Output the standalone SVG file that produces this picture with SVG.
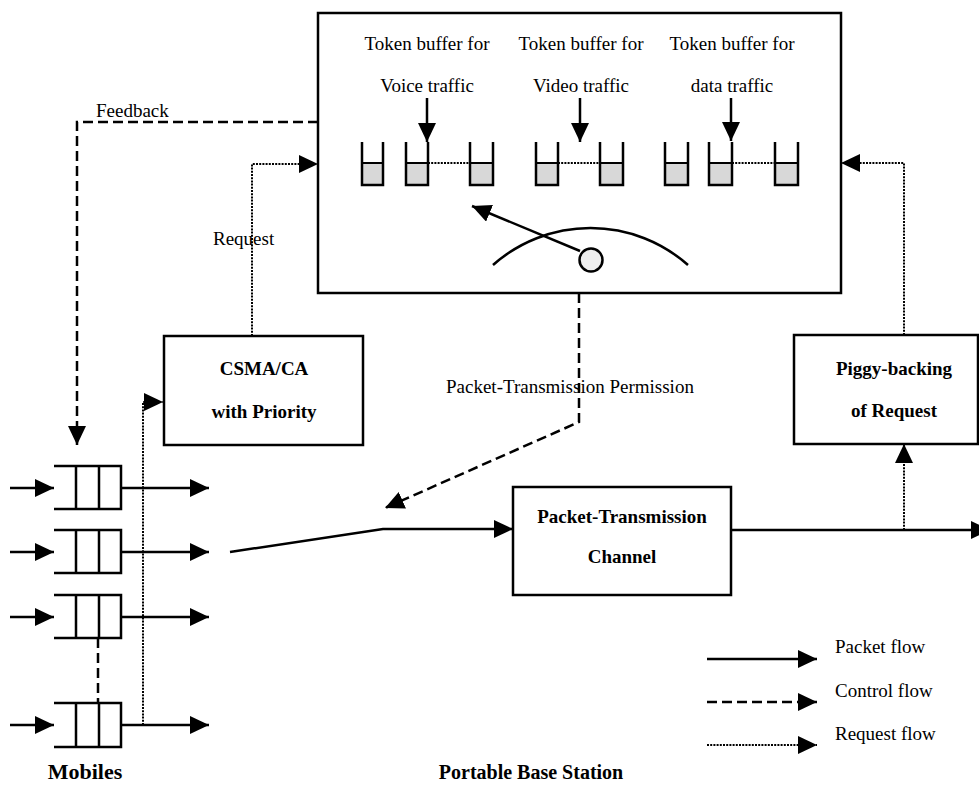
<svg xmlns="http://www.w3.org/2000/svg" width="979" height="787" viewBox="0 0 979 787">
<style>
text{font-family:"Liberation Serif","Times New Roman",serif;fill:#000}
.t{font-size:19px}
.b{font-size:19px;font-weight:bold}
.box{fill:#fff;stroke:#000;stroke-width:2.5}
.solid{fill:none;stroke:#000;stroke-width:2.5}
.dash{fill:none;stroke:#000;stroke-width:2.5;stroke-dasharray:10 5}
.dot{fill:none;stroke:#000;stroke-width:2;stroke-dasharray:2 1.2}
.cup{fill:none;stroke:#000;stroke-width:2.5}
.fill{fill:#d8d8d8;stroke:#000;stroke-width:2}
.q{fill:none;stroke:#000;stroke-width:2.5}
</style>
<defs>
<marker id="ah" markerUnits="userSpaceOnUse" markerWidth="19" markerHeight="18" refX="19" refY="9" orient="auto">
<path d="M0,0 L19,9 L0,18 z" fill="#000"/>
</marker>
</defs>

<g id="base-station">
<rect class="box" x="318" y="13" width="523" height="280"/>
</g>

<g id="token-buffers">
<text class="t" x="427" y="50" text-anchor="middle">Token buffer for</text>
<text class="t" x="427" y="92" text-anchor="middle">Voice traffic</text>
<text class="t" x="581" y="50" text-anchor="middle">Token buffer for</text>
<text class="t" x="581" y="92" text-anchor="middle">Video traffic</text>
<text class="t" x="732" y="50" text-anchor="middle">Token buffer for</text>
<text class="t" x="732" y="92" text-anchor="middle">data traffic</text>
<g id="cups">
<rect class="fill" x="362" y="163" width="21" height="22"/>
<rect class="fill" x="406" y="163" width="22" height="22"/>
<rect class="fill" x="470" y="163" width="23" height="22"/>
<rect class="fill" x="536" y="163" width="22" height="22"/>
<rect class="fill" x="600" y="163" width="23" height="22"/>
<rect class="fill" x="665" y="163" width="23" height="22"/>
<rect class="fill" x="709" y="163" width="23" height="22"/>
<rect class="fill" x="775" y="163" width="23" height="22"/>
<path class="cup" d="M362,142 V185 H383 V142"/>
<path class="cup" d="M406,142 V185 H428 V142"/>
<path class="cup" d="M470,142 V185 H493 V142"/>
<path class="cup" d="M536,142 V185 H558 V142"/>
<path class="cup" d="M600,142 V185 H623 V142"/>
<path class="cup" d="M665,142 V185 H688 V142"/>
<path class="cup" d="M709,142 V185 H732 V142"/>
<path class="cup" d="M775,142 V185 H798 V142"/>
<path class="dot" d="M428,163 H470 M558,163 H600 M732,163 H775"/>
</g>
<path class="solid" d="M427,98 V142" marker-end="url(#ah)"/>
<path class="solid" d="M580,98 V142" marker-end="url(#ah)"/>
<path class="solid" d="M731,98 V141" marker-end="url(#ah)"/>
</g>

<g id="scheduler">
<path class="solid" d="M493,265 A147,147 0 0 1 688,265"/>
<path class="solid" d="M580,251 L472,206" marker-end="url(#ah)"/>
<circle cx="591" cy="260" r="11.5" fill="#eee" stroke="#000" stroke-width="2.5"/>
</g>

<g id="csma">
<rect class="box" x="164" y="336" width="199" height="109"/>
<text class="b" x="264" y="375" text-anchor="middle">CSMA/CA</text>
<text class="b" x="264" y="418" text-anchor="middle">with Priority</text>
</g>

<g id="piggy">
<rect class="box" x="794" y="335" width="184" height="109"/>
<text class="b" x="894" y="375" text-anchor="middle">Piggy-backing</text>
<text class="b" x="894" y="417" text-anchor="middle">of Request</text>
</g>

<g id="channel">
<rect class="box" x="513" y="487" width="218" height="108"/>
<text class="b" x="622" y="523" text-anchor="middle">Packet-Transmission</text>
<text class="b" x="622" y="563" text-anchor="middle">Channel</text>
</g>

<g id="mobiles">
<g id="queue1">
<path class="q" d="M54,466 H121 V509 H54 M76,466 V509 M99,466 V509"/>
</g>
<g id="queue2">
<path class="q" d="M54,530 H121 V573 H54 M76,530 V573 M99,530 V573"/>
</g>
<g id="queue3">
<path class="q" d="M54,595 H121 V638 H54 M76,595 V638 M99,595 V638"/>
</g>
<g id="queue4">
<path class="q" d="M54,703 H121 V747 H54 M76,703 V747 M99,703 V747"/>
</g>
<path class="dash" d="M98,638 V703" stroke-dasharray="8 4"/>
<text x="85" y="779" text-anchor="middle" style="font-size:22px;font-weight:bold">Mobiles</text>
</g>

<g id="connectors">
<path class="solid" d="M10,488 H54" marker-end="url(#ah)"/>
<path class="solid" d="M10,552 H54" marker-end="url(#ah)"/>
<path class="solid" d="M10,617 H54" marker-end="url(#ah)"/>
<path class="solid" d="M10,725 H54" marker-end="url(#ah)"/>
<path class="solid" d="M121,488 H209" marker-end="url(#ah)"/>
<path class="solid" d="M121,552 H209" marker-end="url(#ah)"/>
<path class="solid" d="M121,617 H209" marker-end="url(#ah)"/>
<path class="solid" d="M121,725 H209" marker-end="url(#ah)"/>
<path class="dot" d="M143,725 V402 H163" marker-end="url(#ah)"/>
<path class="dash" d="M318,122 H77 V445" marker-end="url(#ah)"/>
<text class="t" x="96" y="117">Feedback</text>
<path class="dot" d="M252,336 V164 H318" marker-end="url(#ah)"/>
<text class="t" x="213" y="245">Request</text>
<path class="dash" d="M579,293 V422 L385,508" marker-end="url(#ah)"/>
<text class="t" x="446" y="393">Packet-Transmission Permission</text>
<path class="solid" d="M230,552 L383,529 H513" marker-end="url(#ah)"/>
<path class="solid" d="M731,530 H990" marker-end="url(#ah)"/>
<path class="dot" d="M904,530 V444" marker-end="url(#ah)"/>
<path class="dot" d="M904,335 V163 H841" marker-end="url(#ah)"/>
</g>

<g id="legend">
<path class="solid" d="M707,659 H817" marker-end="url(#ah)"/>
<path class="dash" d="M707,702 H817" marker-end="url(#ah)"/>
<path class="dot" d="M707,745 H817" marker-end="url(#ah)"/>
<text class="t" x="835" y="653">Packet flow</text>
<text class="t" x="835" y="697">Control flow</text>
<text class="t" x="835" y="740">Request flow</text>
</g>

<text x="531" y="779" text-anchor="middle" style="font-size:20px;font-weight:bold">Portable Base Station</text>
</svg>
